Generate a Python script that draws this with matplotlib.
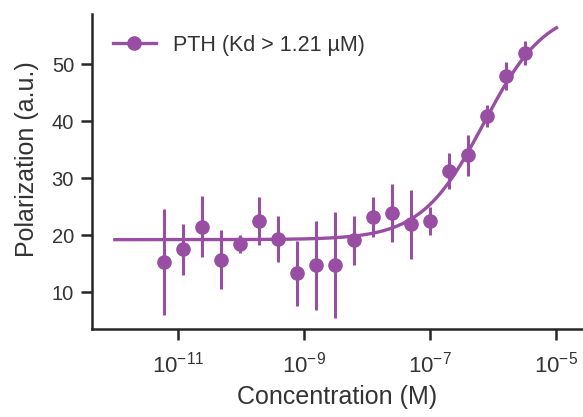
import numpy as np
import matplotlib
matplotlib.use("Agg")
import matplotlib.pyplot as plt
from matplotlib.lines import Line2D
from matplotlib.ticker import FixedLocator, NullLocator, LogFormatterMathtext

# Measured data (serial 2-fold dilution)
concentration = [6.1e-12, 1.22e-11, 2.44e-11, 4.88e-11, 9.77e-11, 1.95e-10, 3.91e-10,
                 7.81e-10, 1.56e-9, 3.13e-9, 6.25e-9, 1.25e-8, 2.5e-8, 5.0e-8, 1.0e-7,
                 2.0e-7, 4.0e-7, 8.0e-7, 1.6e-6, 3.2e-6]
polarization = [15.3, 17.5, 21.5, 15.7, 18.4, 22.5, 19.3, 13.3, 14.7, 14.8,
                19.1, 23.2, 23.8, 21.9, 22.5, 31.3, 34.0, 40.9, 47.9, 52.0]
polarization_err = [9.3, 4.5, 5.4, 5.2, 1.6, 4.2, 4.0, 5.7, 7.8, 9.3,
                    4.3, 3.5, 5.1, 6.1, 2.5, 3.2, 3.6, 2.0, 2.5, 2.1]

# Fitted curve parameters (Hill)
fitBottom = 19.2
fitTop = 60.0
fitEC50 = 7.0e-7
fitHill = 0.88
fitRange = (1e-12, 1e-5)

label = "PTH (Kd > 1.21 \u00b5M)"
color = "#984ea3"

plt.rcParams['font.family'] = ['Liberation Sans', 'DejaVu Sans']
plt.rcParams['mathtext.fontset'] = 'custom'
plt.rcParams['mathtext.rm'] = 'Liberation Sans'
plt.rcParams['mathtext.it'] = 'Liberation Sans:italic'
plt.rcParams['mathtext.bf'] = 'Liberation Sans:bold'
plt.rcParams['mathtext.default'] = 'regular'

fig = plt.figure(figsize=(5.83, 4.17), dpi=100)
ax = fig.add_axes([0.158, 0.211, 0.842, 0.755])

xFit = np.logspace(np.log10(fitRange[0]), np.log10(fitRange[1]), 300)
yFit = fitBottom + (fitTop - fitBottom) * xFit**fitHill / (fitEC50**fitHill + xFit**fitHill)
ax.plot(xFit, yFit, color=color, linewidth=2.4)

ax.errorbar(concentration, polarization, yerr=polarization_err, fmt='o',
            color=color, markersize=9.5, elinewidth=2.2, capsize=0)

ax.set_xscale('log')
ax.set_xlim(10**-12.36, 10**-4.58)
ax.set_ylim(3.5, 58.8)
ax.xaxis.set_major_locator(FixedLocator([1e-11, 1e-9, 1e-7, 1e-5]))
ax.xaxis.set_major_formatter(LogFormatterMathtext())
ax.xaxis.set_minor_locator(NullLocator())
ax.set_yticks([10, 20, 30, 40, 50])

textColor = '#333333'
ax.set_xlabel("Concentration (M)", fontsize=18, color=textColor, labelpad=6)
ax.set_ylabel("Polarization (a.u.)", fontsize=18, color=textColor, labelpad=9)
ax.yaxis.label.set_y(0.54)
ax.tick_params(axis='both', length=8, width=1.8, colors='#262626', labelcolor=textColor)
ax.tick_params(axis='x', labelsize=16, pad=8)
ax.tick_params(axis='y', labelsize=14.5, pad=5)

for side in ['top', 'right']:
    ax.spines[side].set_visible(False)
for side in ['left', 'bottom']:
    ax.spines[side].set_linewidth(1.8)
    ax.spines[side].set_color('#262626')

handle = Line2D([], [], color=color, marker='o', markersize=9.5, linewidth=2.4)
ax.legend([handle], [label], loc='upper left', frameon=False, fontsize=15.5,
          labelcolor=textColor, handlelength=2.0, borderaxespad=0.55)

fig.savefig("out.png", dpi=100)
